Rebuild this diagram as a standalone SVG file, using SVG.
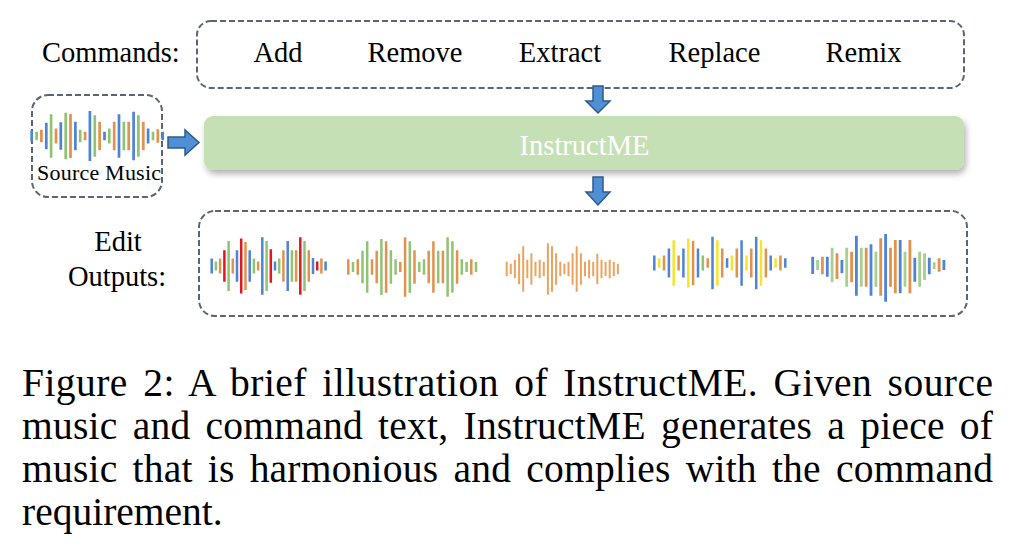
<svg xmlns="http://www.w3.org/2000/svg" width="1022" height="557" viewBox="0 0 1022 557">
<style>
.t{font-family:"Liberation Serif","Times New Roman",serif;fill:#000}
.dash{fill:none;stroke:#5c6672;stroke-width:2;stroke-dasharray:6 3}
.arr{fill:#4f8fd6;stroke:#2f5b8a;stroke-width:1.5;stroke-linejoin:miter}
.b{fill:none;stroke:#4f83d6}
.g{fill:none;stroke:#8ec474}
.gp{fill:none;stroke:#a8cf92}
.o{fill:none;stroke:#e2924c}
.o2{fill:none;stroke:#eba45f}
.r{fill:none;stroke:#e0191f}
.y{fill:none;stroke:#f3e52c}
.cap{font-family:"Liberation Serif","Times New Roman",serif;font-size:39.5px;fill:#000}
</style>
<defs>
<filter id="sh" x="-5%" y="-30%" width="110%" height="180%">
<feDropShadow dx="2" dy="4" stdDeviation="3" flood-color="#000" flood-opacity="0.3"/>
</filter>
</defs>
<rect width="1022" height="557" fill="#fff"/>

<g id="commands">
<text class="t" x="42" y="62" font-size="28.5">Commands:</text>
<rect class="dash" x="197" y="21" width="767" height="67" rx="14"/>
<g class="t" font-size="28.5" text-anchor="middle">
<text class="t" x="278" y="62">Add</text>
<text class="t" x="415" y="62">Remove</text>
<text class="t" x="560" y="62">Extract</text>
<text class="t" x="714.5" y="62">Replace</text>
<text class="t" x="863.5" y="62">Remix</text>
</g>
</g>

<g id="source-music">
<rect class="dash" x="32" y="95" width="130" height="102" rx="16"/>
<g stroke-width="2.7">
<path class="b" d="M31.7 130.2v11.6M46.3 122.7v26.6M60.8 122.2v27.6M75.4 121.8v28.4M89.9 111v50M104.5 131.8v8.4M119 114.3v43.4M133.6 111.8v48.4M148.1 128.5v15M162.7 131.8v8.4"/>
<path class="g" d="M36.6 131.8v8.4M51.1 114.3v43.4M65.7 112.7v46.6M80.2 129.7v12.6M94.8 115.2v41.6M109.3 128.5v15M123.9 121.8v28.4M138.4 115.2v41.6M153 131.8v8.4"/>
<path class="o" d="M41.4 129.7v12.6M56 128.5v15M70.5 114v44M85.1 131.8v8.4M99.6 121.8v28.4M114.2 121.8v28.4M128.7 121.8v28.4M143.3 121.8v28.4M157.8 129.3v13.4"/>
</g>
<text class="t" x="37" y="180" font-size="22" textLength="124">Source Music</text>
</g>

<g id="instructme">
<rect x="204" y="116" width="760" height="54" rx="9" fill="#c5e0b4" filter="url(#sh)"/>
<text class="t" x="584.5" y="155" font-size="28.5" text-anchor="middle" style="fill:#fff">InstructME</text>
</g>

<g id="edit-outputs">
<text class="t" x="118" y="251" font-size="28.5" text-anchor="middle">Edit</text>
<text class="t" x="117" y="286" font-size="28.5" text-anchor="middle">Outputs:</text>
<rect class="dash" x="199" y="211" width="768" height="105" rx="16"/>
<g id="out-add" stroke-width="2.5">
<path class="b" d="M211.7 258.5v15M237 250.2v31.6M249.7 250.2v31.6M262.3 237.2v57.6M275 261.5v9M287.7 241v50M313 258v16M325.6 261.5v9"/>
<path class="g" d="M215.9 261.5v9M228.6 241v50M253.9 258.5v15M266.6 241v50M279.2 258.5v15M291.9 250.2v31.6M304.5 241v50"/>
<path class="o" d="M220.1 258.5v15M232.8 258.5v15M245.5 242v48M258.1 261.5v9M283.4 250.2v31.6M296.1 250.2v31.6M308.8 250.2v31.6M321.4 258.5v15"/>
<path class="r" d="M224.4 250.2v31.6M241.2 238.5v55M270.8 249.3v33.4M300.3 237.2v57.6M317.2 261.5v9"/>
</g>
<g id="out-remove" stroke-width="2.5">
<path class="o" d="M348.3 259.2v15.6M357.8 259.2v15.6M372 259.2v15.6M376.7 250.7v32.6M386.1 241.2v51.6M400.3 262v10M405.1 237.3v59.4M414.5 250.3v33.4M428.7 250.7v32.6M433.4 241.2v51.6M442.9 250.7v32.6M457.1 250.3v33.4M471.3 259.2v15.6"/>
<path class="g" d="M353 262v10M362.5 250.7v32.6M367.2 241.2v51.6M381.4 239v56M390.9 250.3v33.4M395.6 259.2v15.6M409.8 241.2v51.6M419.3 262v10M424 259.2v15.6M438.2 250.7v32.6M447.6 237.3v59.4M452.4 241.2v51.6M461.8 259.2v15.6M466.6 262v10M476 262v10"/>
</g>
<g id="out-extract" stroke-width="2">
<path class="o2" d="M506.7 261.8v14.4M510.8 263.7v10.6M514.9 259.8v18.4M519.1 253.7v30.6M523.2 246.2v45.6M527.3 259.8v18.4M531.4 253.2v31.6M535.5 261.8v14.4M539.7 259.8v18.4M543.8 261.8v14.4M547.9 243.2v51.6M552 246.2v45.6M556.1 253.2v31.6M560.3 261.8v14.4M564.4 263.7v10.6M568.5 261.8v14.4M572.6 253.2v31.6M576.7 246.2v45.6M580.9 253.2v31.6M585 261.8v14.4M589.1 259.8v18.4M593.2 261.8v14.4M597.3 253.7v30.6M601.5 259.8v18.4M605.6 261.8v14.4M609.7 259.8v18.4M613.8 261.8v14.4M617.9 263.7v10.6"/>
</g>
<g id="out-replace" stroke-width="2.5">
<path class="b" d="M654.3 255.5v15M668.9 248.5v29M683.4 248.5v29M698 248.5v29M712.5 236.8v52.4M727.1 258.3v9.4M741.6 240.2v45.6M756.2 236.8v52.4M770.7 255.5v15M785.3 258.3v9.4"/>
<path class="y" d="M659.2 258.3v9.4M673.7 240.2v45.6M688.3 238.5v49M717.4 240.2v45.6M731.9 255.5v15M746.5 255.5v15M761 240.2v45.6M775.6 258.3v9.4"/>
<path class="o" d="M664 255.5v15M678.6 255.5v15M693.1 240.8v44.4M707.7 258.3v9.4M722.2 248.5v29M736.8 248.5v29M751.3 248.5v29M765.9 248.5v29M780.4 255.5v15"/>
<path class="g" d="M702.8 255.5v15"/>
</g>
<g id="out-remix" stroke-width="2.8">
<path class="b" d="M812.7 256.7v17.3M827.3 256.7v20M841.9 260v13.3M856.4 235.7v60M871 244.3v51.4M885.6 234v67.7M900.2 240v53.3M914.8 257.7v24M929.3 257.7v16.6M943.9 260v10"/>
<path class="gp" d="M817.6 260v10M832.1 247.7v34.6M846.7 247.7v39M861.3 247.7v39M875.9 251.7v35M905 251.7v35M919.6 251.7v35M924.5 253.3v26.7M934.2 262.3v6.7"/>
<path class="o" d="M822.4 256.7v17.6M837 253.3v25.7M851.6 251.7v30.6M866.2 247.7v39M880.7 238.3v57.4M890.5 247.7v39M895.3 240v53.3M909.9 240v53.3M939.1 258.3v13.4"/>
</g>
</g>

<g id="connectors">
<polygon class="arr" points="593,86 603,86 603,101 610,101 598,113 586,101 593,101"/>
<polygon class="arr" points="593,177 603,177 603,192 610,192 598,205 586,192 593,192"/>
<polygon class="arr" points="168,137 185,137 185,130 199,142.5 185,155 185,148 168,148"/>
</g>

<g id="caption">
<text class="cap" x="22" y="396" textLength="971" lengthAdjust="spacing" word-spacing="5">Figure 2: A brief illustration of InstructME. Given source</text>
<text class="cap" x="22" y="439" textLength="971" lengthAdjust="spacing" word-spacing="5">music and command text, InstructME generates a piece of</text>
<text class="cap" x="22" y="482" textLength="971" lengthAdjust="spacing" word-spacing="5">music that is harmonious and complies with the command</text>
<text class="cap" x="22" y="525">requirement.</text>
</g>
</svg>
